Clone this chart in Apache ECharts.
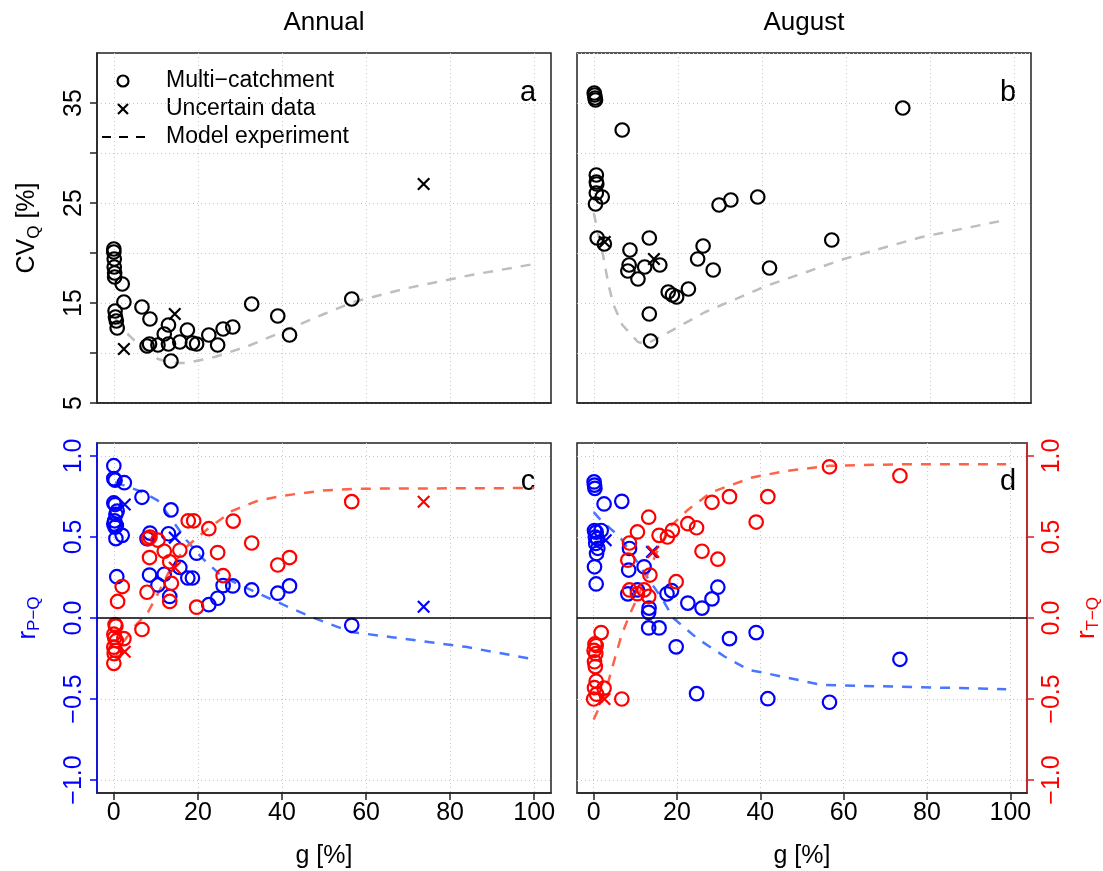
<!DOCTYPE html>
<html>
<head>
<meta charset="utf-8">
<title>CV and correlations vs glacier cover</title>
<script src="https://cdn.jsdelivr.net/npm/echarts@6/dist/echarts.min.js"></script>
<style>
  html, body { margin: 0; padding: 0; background: #fff; }
  #chart { width: 1103px; height: 871px; }
</style>
</head>
<body>
<div id="chart"></div>
<script>
// ---- axis ticks ----
const gTicks = [0, 20, 40, 60, 80, 100];
const cvTicks = [5, 10, 15, 20, 25, 30, 35];
const cvLabels = [5, 15, 25, 35];
const rTicks = [-1, -0.5, 0, 0.5, 1];

// ---- (a) annual CV of discharge [%] vs glacier cover g [%] ----
const annualCvCatch = [
  [0, 20.4], [0, 20.1], [0.1, 19.4], [0.1, 18.6], [0.2, 18.0], [0.2, 17.6],
  [2, 16.9], [2.4, 15.1], [0.3, 14.2], [0.4, 13.6], [0.6, 13.2], [0.8, 12.5],
  [6.7, 14.6], [8.6, 13.4], [7.9, 10.7], [8.5, 10.9], [10.5, 10.8], [12, 11.9],
  [13, 12.8], [13, 10.9], [13.6, 9.2], [15.7, 11.1], [17.5, 12.3], [18.7, 11.0],
  [19.7, 10.9], [22.6, 11.8], [24.7, 10.8], [26, 12.4], [28.3, 12.6], [32.8, 14.9],
  [39, 13.7], [41.8, 11.8], [56.6, 15.4]
];
const annualCvUncertain = [[2.4, 10.4], [14.5, 13.9], [73.7, 26.9]];
const annualCvModel = [
  [0.4, 13.4], [2.8, 12.1], [6, 10.8], [10.5, 9.4], [14, 9.0], [17.3, 9.0],
  [24, 9.6], [32, 10.7], [40, 12.1], [50, 13.9], [57, 15.1], [70, 16.5],
  [85, 17.8], [100, 18.9]
];

// ---- (b) August CV of discharge [%] ----
const augustCvCatch = [
  [0.1, 36.0], [0.2, 35.8], [0.3, 35.5], [0.4, 35.3], [6.75, 32.3], [73.5, 34.5],
  [0.6, 27.8], [0.6, 27.1], [0.7, 26.9], [0.6, 26.0], [2.0, 25.6], [0.4, 24.9],
  [29.8, 24.8], [32.6, 25.3], [39, 25.6], [0.8, 21.5], [2.5, 20.9], [13.2, 21.5],
  [8.6, 20.3], [8.4, 18.8], [8.1, 18.2], [10.5, 17.4], [12.1, 18.6], [15.7, 18.8],
  [17.7, 16.1], [18.7, 15.8], [19.7, 15.6], [22.5, 16.4], [24.7, 19.4], [26, 20.7],
  [28.4, 18.3], [13.2, 13.9], [13.5, 11.2], [41.8, 18.5], [56.6, 21.3]
];
const augustCvUncertain = [[2.6, 21.1], [14.3, 19.4]];
const augustCvModel = [
  [0, 24.0], [1, 22.0], [2.2, 19.8], [3.5, 16.8], [4.7, 14.8], [6.8, 12.8],
  [10.5, 11.1], [12.5, 10.9], [16.6, 11.8], [26.5, 14.1], [41, 16.7], [59.5, 19.4],
  [78, 21.6], [98, 23.3]
];

// ---- (c) annual correlations ----
const annualRpqCatch = [
  [0, 0.94], [0, 0.86], [0.3, 0.85], [2.5, 0.835], [6.7, 0.745], [0, 0.71],
  [0.3, 0.70], [0.8, 0.66], [0.5, 0.64], [0.2, 0.60], [0, 0.58], [0.6, 0.57],
  [0.3, 0.56], [0.5, 0.49], [2, 0.51], [13.6, 0.667], [8.6, 0.524], [7.9, 0.49],
  [13, 0.52], [19.7, 0.40], [0.7, 0.255], [8.5, 0.265], [12, 0.27], [10.5, 0.204],
  [15.7, 0.312], [17.6, 0.247], [18.7, 0.247], [13.3, 0.133], [22.6, 0.082],
  [24.7, 0.122], [26, 0.2], [28.3, 0.198], [32.8, 0.173], [39, 0.153], [41.8, 0.198],
  [56.6, -0.045]
];
const annualRpqUncertain = [[2.6, 0.70], [14.5, 0.496], [73.7, 0.07]];
const annualRtqCatch = [
  [56.6, 0.718], [17.7, 0.60], [19, 0.60], [28.4, 0.598], [22.6, 0.551], [8.6, 0.50],
  [8.2, 0.49], [10.5, 0.48], [32.8, 0.463], [12, 0.412], [15.7, 0.418], [24.7, 0.404],
  [8.5, 0.373], [41.8, 0.373], [39, 0.327], [13.3, 0.347], [26, 0.261], [13.7, 0.214],
  [2, 0.194], [7.9, 0.159], [0.9, 0.102], [13.3, 0.102], [19.7, 0.067], [6.7, -0.071],
  [0.3, -0.04], [0.5, -0.05], [0, -0.10], [0.2, -0.12], [0.6, -0.14], [0, -0.18],
  [0.4, -0.20], [0.1, -0.22], [0, -0.28], [2.4, -0.127]
];
const annualRtqUncertain = [[73.7, 0.718], [14.5, 0.31], [2.6, -0.208]];
const annualRpqModel = [
  [0.3, 0.837], [7, 0.776], [10.5, 0.724], [13.9, 0.602], [17.3, 0.48], [20.7, 0.378],
  [25.8, 0.255], [32.6, 0.173], [40.3, 0.082], [47, 0.006], [56.4, -0.086],
  [66.6, -0.12], [83.7, -0.178], [100, -0.255]
];
const annualRtqModel = [
  [0.3, -0.25], [2.5, -0.14], [5, -0.05], [8, 0.03], [10.5, 0.15], [13.7, 0.316],
  [17.3, 0.44], [22.4, 0.551], [28.3, 0.663], [34.3, 0.724], [40.3, 0.755],
  [49.6, 0.786], [58, 0.798], [100, 0.802]
];

// ---- (d) August correlations ----
const augustRpqCatch = [
  [0.1, 0.84], [0.2, 0.82], [0.3, 0.80], [2.5, 0.704], [6.75, 0.72], [0.2, 0.54],
  [0.6, 0.53], [1.8, 0.54], [0.4, 0.50], [0.9, 0.49], [0.5, 0.46], [1.0, 0.43],
  [0.7, 0.398], [0.2, 0.316], [0.6, 0.21], [8.6, 0.429], [8.4, 0.296], [12.1, 0.316],
  [8.2, 0.149], [10.5, 0.173], [17.6, 0.149], [18.7, 0.169], [22.6, 0.092], [26, 0.061],
  [28.4, 0.118], [29.8, 0.19], [13.3, 0.061], [13.2, 0.035], [13.2, -0.061],
  [15.7, -0.061], [19.8, -0.178], [32.6, -0.127], [39, -0.09], [73.5, -0.255],
  [24.7, -0.467], [41.8, -0.498], [56.6, -0.52]
];
const augustRpqUncertain = [[2.9, 0.48], [14, 0.408]];
const augustRtqCatch = [
  [56.6, 0.933], [73.5, 0.878], [28.4, 0.714], [32.6, 0.749], [41.8, 0.749], [13.2, 0.622],
  [39, 0.592], [22.6, 0.582], [24.7, 0.557], [10.5, 0.531], [15.7, 0.51], [17.7, 0.50],
  [18.9, 0.541], [8.6, 0.463], [26, 0.412], [29.8, 0.363], [8.2, 0.357], [13.5, 0.265],
  [19.8, 0.224], [8.6, 0.173], [12.1, 0.173], [10.5, 0.15], [13.2, 0.133], [1.8, -0.09],
  [0.3, -0.16], [0.6, -0.17], [0.1, -0.2], [0.5, -0.22], [0.2, -0.27], [0.4, -0.30],
  [0.6, -0.39], [0.2, -0.43], [0.7, -0.47], [0, -0.5], [2.5, -0.433], [6.75, -0.5]
];
const augustRtqUncertain = [[2.6, -0.5], [14.3, 0.408]];
const augustRpqModel = [
  [0, 0.653], [1.8, 0.602], [6.3, 0.50], [9.6, 0.378], [13.3, 0.235], [16.6, 0.112],
  [19.1, 0.0], [24.9, -0.127], [31.5, -0.239], [37.2, -0.32], [41.4, -0.341],
  [54.5, -0.412], [62.8, -0.418], [99, -0.439]
];
const augustRtqModel = [
  [0, -0.627], [2.6, -0.48], [4.3, -0.32], [6.75, -0.1], [8.8, 0.03], [11.7, 0.194],
  [15, 0.398], [18.3, 0.561], [22.4, 0.663], [28.2, 0.776], [38, 0.867], [46.3, 0.908],
  [56.6, 0.939], [74.3, 0.949], [99, 0.949]
];

// ---- styling ----
const FONT = '"Liberation Sans", Arial, Helvetica, sans-serif';
const BLACK = '#000000';
const BLUE = '#0000ff';
const RED = '#ff0000';
const RED_AXIS = '#dd2020';
const MODEL_GREY = '#bebebe';
const MODEL_BLUE = '#4876ff';
const MODEL_RED = '#ff6347';
const GRID_LINE = { type: [1, 3], color: '#c8c8c8', width: 1 };
const CROSS = 'path://M0,0L10,10M0,10L10,0';
const TICK_FONT = 25;
const NAME_FONT = 25;

const PANEL_W = 454, PANEL_H = 350;
const panelPos = [
  { left: 97, top: 53 }, { left: 577, top: 53 },
  { left: 97, top: 443 }, { left: 577, top: 443 }
];

const rFmt = v => (v < 0 ? '\u2212' : '') + Math.abs(v).toFixed(1);

function xAxisFor(i) {
  const bottom = i >= 2;
  return {
    gridIndex: i, type: 'value', min: -4, max: 104,
    axisLine: { show: true, onZero: false, lineStyle: { color: '#222', width: 1.5 } },
    axisTick: { show: bottom, customValues: gTicks, length: 7, lineStyle: { color: '#222', width: 1.5 } },
    axisLabel: { show: bottom, customValues: gTicks, fontSize: TICK_FONT, color: BLACK, fontFamily: FONT, margin: 8 },
    splitLine: { show: true, lineStyle: GRID_LINE },
    name: bottom ? 'g [%]' : '',
    nameLocation: 'middle', nameGap: 51,
    nameTextStyle: { fontSize: NAME_FONT, color: BLACK, fontFamily: FONT }
  };
}

const subRich = size => ({
  s: { fontSize: size, fontFamily: FONT, padding: [14, 0, 0, 0] }
});

const yAxes = [
  {
    gridIndex: 0, type: 'value', min: 5, max: 40, interval: 5, position: 'left',
    axisLine: { show: true, onZero: false, lineStyle: { color: '#222', width: 1.5 } },
    axisTick: { show: true, customValues: cvTicks, length: 7, lineStyle: { color: '#222', width: 1.5 } },
    axisLabel: { show: true, customValues: cvLabels, rotate: 90, fontSize: TICK_FONT, color: BLACK, fontFamily: FONT, margin: 10 },
    splitLine: { show: true, lineStyle: GRID_LINE },
    name: 'CV{s|Q} [%]', nameLocation: 'middle', nameRotate: 90, nameGap: 54,
    nameTextStyle: { fontSize: NAME_FONT, color: BLACK, fontFamily: FONT, rich: subRich(17) }
  },
  {
    gridIndex: 1, type: 'value', min: 5, max: 40, interval: 5, position: 'left',
    axisLine: { show: false }, axisTick: { show: false }, axisLabel: { show: false },
    splitLine: { show: true, lineStyle: GRID_LINE }
  },
  {
    gridIndex: 2, type: 'value', min: -1.08, max: 1.08, position: 'left',
    axisLine: { show: true, onZero: false, lineStyle: { color: BLUE, width: 1.5 } },
    axisTick: { show: true, customValues: rTicks, length: 7, lineStyle: { color: BLUE, width: 1.5 } },
    axisLabel: { show: true, customValues: rTicks, rotate: 90, fontSize: TICK_FONT, color: BLUE, fontFamily: FONT, margin: 10, formatter: rFmt },
    splitLine: { show: true, lineStyle: GRID_LINE },
    name: 'r{s|P\u2212Q}', nameLocation: 'middle', nameRotate: 90, nameGap: 54,
    nameTextStyle: { fontSize: 26, color: BLUE, fontFamily: FONT, rich: subRich(17) }
  },
  {
    gridIndex: 3, type: 'value', min: -1.08, max: 1.08, position: 'right',
    axisLine: { show: true, onZero: false, lineStyle: { color: RED_AXIS, width: 1.5 } },
    axisTick: { show: true, customValues: rTicks, length: 7, lineStyle: { color: RED_AXIS, width: 1.5 } },
    axisLabel: { show: true, customValues: rTicks, rotate: 90, fontSize: TICK_FONT, color: RED, fontFamily: FONT, margin: 13, formatter: rFmt },
    splitLine: { show: true, lineStyle: GRID_LINE },
    name: 'r{s|T\u2212Q}', nameLocation: 'middle', nameRotate: 90, nameGap: 44,
    nameTextStyle: { fontSize: 26, color: RED, fontFamily: FONT, rich: subRich(17) }
  }
];

function model(data, color, i, extra) {
  return Object.assign({
    type: 'line', xAxisIndex: i, yAxisIndex: i, data,
    symbol: 'none', silent: true, z: 2,
    lineStyle: { color, width: 2.5, type: [10, 9], opacity: 1 }
  }, extra || {});
}
function circles(data, color, i) {
  return {
    type: 'scatter', xAxisIndex: i, yAxisIndex: i, data,
    symbol: 'circle', symbolSize: 13.5, silent: true, z: 4,
    itemStyle: { color: 'rgba(0,0,0,0)', borderColor: color, borderWidth: 2.2, opacity: 1 }
  };
}
function crosses(data, color, i) {
  return {
    type: 'scatter', xAxisIndex: i, yAxisIndex: i, data,
    symbol: CROSS, symbolSize: 11.5, silent: true, z: 4,
    itemStyle: { color: 'rgba(0,0,0,0)', borderColor: color, borderWidth: 2.2, opacity: 1 }
  };
}
const zeroLine = {
  markLine: {
    silent: true, symbol: 'none', label: { show: false },
    lineStyle: { color: BLACK, width: 1.5, type: 'solid', opacity: 1 },
    data: [{ yAxis: 0 }]
  }
};

const series = [
  model(annualCvModel, MODEL_GREY, 0),
  circles(annualCvCatch, BLACK, 0),
  crosses(annualCvUncertain, BLACK, 0),

  model(augustCvModel, MODEL_GREY, 1),
  circles(augustCvCatch, BLACK, 1),
  crosses(augustCvUncertain, BLACK, 1),

  model(annualRpqModel, MODEL_BLUE, 2, zeroLine),
  model(annualRtqModel, MODEL_RED, 2),
  circles(annualRpqCatch, BLUE, 2),
  crosses(annualRpqUncertain, BLUE, 2),
  circles(annualRtqCatch, RED, 2),
  crosses(annualRtqUncertain, RED, 2),

  model(augustRpqModel, MODEL_BLUE, 3, zeroLine),
  model(augustRtqModel, MODEL_RED, 3),
  circles(augustRpqCatch, BLUE, 3),
  crosses(augustRpqUncertain, BLUE, 3),
  circles(augustRtqCatch, RED, 3),
  crosses(augustRtqUncertain, RED, 3)
];

// panel letters and legend
const letter = (t, x, y) => ({
  type: 'text', x, y, silent: true,
  style: { text: t, fontSize: 29, fontFamily: FONT, fill: BLACK, align: 'center', verticalAlign: 'middle' }
});
const legendRows = [
  { label: 'Multi\u2212catchment', y: 81 },
  { label: 'Uncertain data', y: 109 },
  { label: 'Model experiment', y: 137 }
];
const legendText = legendRows.map(r => ({
  type: 'text', x: 166, y: r.y, silent: true,
  style: { text: r.label, fontSize: 23, fontFamily: FONT, fill: BLACK, align: 'left', verticalAlign: 'middle' }
}));
const graphic = [
  letter('a', 528, 93), letter('b', 1008, 93), letter('c', 528, 482), letter('d', 1008, 482),
  { type: 'circle', silent: true, shape: { cx: 123, cy: 81, r: 5.5 },
    style: { fill: 'none', stroke: BLACK, lineWidth: 2.2 } },
  { type: 'line', silent: true, shape: { x1: 118, y1: 104, x2: 128, y2: 114 },
    style: { stroke: BLACK, lineWidth: 2.2 } },
  { type: 'line', silent: true, shape: { x1: 118, y1: 114, x2: 128, y2: 104 },
    style: { stroke: BLACK, lineWidth: 2.2 } },
  { type: 'line', silent: true, shape: { x1: 102, y1: 137, x2: 146, y2: 137 },
    style: { stroke: BLACK, lineWidth: 2.2, lineDash: [9, 8] } }
].concat(legendText);

const option = {
  animation: false,
  backgroundColor: '#ffffff',
  textStyle: { fontFamily: FONT },
  title: [
    { text: 'Annual', left: 324, top: 10, textAlign: 'center', padding: 0,
      textStyle: { fontSize: 26, fontWeight: 'normal', color: BLACK, fontFamily: FONT } },
    { text: 'August', left: 804, top: 10, textAlign: 'center', padding: 0,
      textStyle: { fontSize: 26, fontWeight: 'normal', color: BLACK, fontFamily: FONT } }
  ],
  grid: panelPos.map(p => ({
    left: p.left, top: p.top, width: PANEL_W, height: PANEL_H,
    show: true, borderColor: '#222', borderWidth: 1.5, backgroundColor: 'transparent',
    containLabel: false
  })),
  xAxis: [0, 1, 2, 3].map(xAxisFor),
  yAxis: yAxes,
  series,
  graphic
};

const chart = echarts.init(document.getElementById('chart'), null, { renderer: 'canvas' });
chart.setOption(option);
</script>
</body>
</html>
